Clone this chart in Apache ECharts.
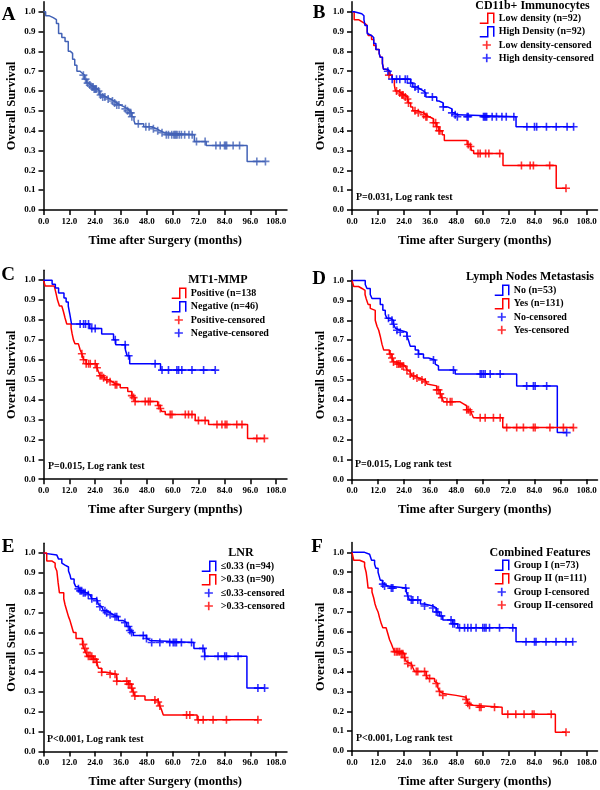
<!DOCTYPE html>
<html><head><meta charset="utf-8">
<script src="https://cdn.jsdelivr.net/npm/echarts@6/dist/echarts.min.js"></script>
<style>html,body{margin:0;padding:0;background:#fff}#main{width:600px;height:790px}</style>
</head><body><div id="main"></div>
<script>
// ---------- tick labels ----------
const X_TICKS = [0, 12, 24, 36, 48, 60, 72, 84, 96, 108];
const Y_TICKS = [0, 0.1, 0.2, 0.3, 0.4, 0.5, 0.6, 0.7, 0.8, 0.9, 1.0];

// ---------- Panel A: all patients ----------
const aTimes = [0, 1, 2.5, 4.5, 6, 7, 8.5, 10, 11.5, 12.5, 13.5, 14.5, 15.5, 17, 18, 19, 20, 21, 22, 23.5, 25, 26, 27.5, 29, 31, 32.5, 34, 35.5, 37.5, 39, 40, 41, 42, 42.5, 46.5, 50, 52.5, 54, 56, 70, 75.5, 94.5];
const aSurv = [1.0, 0.98, 0.97, 0.96, 0.94, 0.89, 0.87, 0.85, 0.80, 0.79, 0.76, 0.73, 0.70, 0.69, 0.68, 0.66, 0.64, 0.63, 0.62, 0.61, 0.60, 0.58, 0.57, 0.56, 0.55, 0.54, 0.53, 0.52, 0.51, 0.50, 0.49, 0.47, 0.45, 0.435, 0.42, 0.41, 0.40, 0.39, 0.38, 0.345, 0.325, 0.245];
const aCens = [18.5, 19.5, 20.5, 21.5, 22.5, 23, 23.5, 24, 24.5, 25.5, 26.5, 27.5, 28.5, 30, 32, 33, 34, 35, 38, 39, 40, 40.5, 41, 44, 47.5, 49, 51, 53, 55, 57, 58, 59.5, 60.5, 61, 61.5, 62, 63, 64, 65.5, 67.5, 69, 71, 75, 80, 82, 84, 84.5, 85, 88, 91, 99, 103];

// ---------- Panel B: CD11b+ ----------
const bLowTimes = [0, 1, 3, 4.5, 6, 7, 7.5, 9, 10, 11, 12.5, 13, 14, 14.5, 15.5, 17, 18.5, 19.5, 20, 21.5, 22.5, 24, 25.5, 26, 27, 28, 30.5, 33, 34, 35.5, 37.5, 39, 40, 41.5, 42.5, 53, 54.5, 55, 56, 69.5, 94];
const bLowSurv = [1.0, 0.96, 0.95, 0.94, 0.93, 0.90, 0.88, 0.86, 0.83, 0.81, 0.79, 0.77, 0.74, 0.71, 0.70, 0.68, 0.66, 0.63, 0.60, 0.59, 0.58, 0.57, 0.56, 0.54, 0.52, 0.50, 0.49, 0.48, 0.47, 0.46, 0.44, 0.42, 0.40, 0.38, 0.35, 0.33, 0.32, 0.30, 0.285, 0.225, 0.11];
const bLowCens = [17, 20.5, 22, 23, 23.5, 24.5, 25.5, 26, 29, 30.5, 33, 34, 34.5, 37.5, 38.5, 39, 40, 40.5, 53.5, 54.5, 58, 59, 61.5, 63, 68, 78, 82, 83.5, 91, 98.5];
const bHighTimes = [0, 1, 4.5, 5.5, 6, 7, 7.5, 9, 10, 11, 12.5, 13, 14, 14.5, 16.5, 17.5, 18.5, 27, 28, 30, 31.5, 33, 34, 39, 40, 42, 44, 46, 47, 48.5, 75.5];
const bHighSurv = [1.0, 0.99, 0.98, 0.96, 0.93, 0.89, 0.88, 0.87, 0.84, 0.81, 0.79, 0.77, 0.74, 0.71, 0.70, 0.68, 0.66, 0.64, 0.62, 0.61, 0.60, 0.59, 0.57, 0.55, 0.54, 0.52, 0.51, 0.49, 0.48, 0.47, 0.42];
const bHighCens = [16.5, 18.5, 20.5, 22, 24.5, 25.5, 27, 29, 30.5, 33.5, 37, 42, 46, 47.5, 48.5, 53, 53.5, 60.5, 61, 61.5, 62, 64.5, 66.5, 69, 71, 74.5, 80.5, 84, 85, 89.5, 94, 99, 102];

// ---------- Panel C: MT1-MMP ----------
const cPosTimes = [0, 0.8, 5, 5.9, 6.5, 7.4, 8.5, 9.3, 10, 10.8, 12.8, 13.3, 13.9, 14.6, 16.2, 17, 17.8, 18.6, 19.8, 24.8, 25.5, 26.3, 27.9, 28.6, 30.2, 31.8, 33.3, 35.6, 39.1, 41, 41.8, 42.5, 53, 54.2, 54.9, 56.5, 70.4, 76.6, 94.7];
const cPosSurv = [1.0, 0.97, 0.96, 0.93, 0.90, 0.87, 0.86, 0.84, 0.81, 0.78, 0.76, 0.73, 0.70, 0.68, 0.67, 0.65, 0.63, 0.60, 0.58, 0.56, 0.54, 0.52, 0.51, 0.50, 0.49, 0.48, 0.475, 0.46, 0.44, 0.42, 0.41, 0.39, 0.37, 0.355, 0.34, 0.325, 0.295, 0.275, 0.205];
const cPosCens = [17.8, 18.6, 19.8, 20.9, 21.7, 24, 24.8, 26.3, 27.1, 27.9, 29.4, 30.9, 33.3, 34, 41, 41.8, 42.5, 47.2, 48.7, 49.5, 53.4, 54.2, 58.8, 59.6, 65.8, 67.3, 68.9, 71.9, 75, 80.5, 82.8, 84.3, 85.1, 89.7, 92.1, 99, 102.5];
const cNegTimes = [0, 4, 5.5, 7, 9.5, 10.5, 11.5, 12.2, 13, 21.5, 27, 32.5, 33.5, 38, 38.8, 40, 54.3];
const cNegSurv = [1.0, 0.98, 0.96, 0.935, 0.91, 0.89, 0.87, 0.83, 0.78, 0.757, 0.73, 0.70, 0.675, 0.65, 0.62, 0.58, 0.548];
const cNegCens = [17, 18.6, 19.5, 20.9, 22.4, 24, 33.3, 37.9, 39.5, 51.8, 55, 58, 61.9, 62.7, 64.2, 68.9, 74.3, 79.7];

// ---------- Panel D: Lymph nodes metastasis ----------
const dNoTimes = [0, 6.1, 6.9, 8.4, 9.2, 13, 14.2, 15.3, 16, 17.6, 19.1, 20, 20.7, 22.2, 25.3, 26, 26.8, 29.1, 30.6, 32.9, 35.2, 38.3, 39, 39.8, 47.5, 75.8, 94.5];
const dNoSurv = [1.0, 0.98, 0.96, 0.93, 0.91, 0.88, 0.85, 0.83, 0.81, 0.80, 0.78, 0.76, 0.75, 0.74, 0.72, 0.70, 0.67, 0.65, 0.63, 0.61, 0.60, 0.58, 0.57, 0.55, 0.53, 0.47, 0.235];
const dNoCens = [16.8, 18.4, 19.1, 20.7, 22.2, 25.3, 30.6, 37.5, 46.7, 59, 59.7, 60.5, 61.3, 63.6, 68.2, 80.4, 83.5, 84.3, 89.6, 98.8];
const dYesTimes = [0, 0.8, 3, 4.6, 6, 6.5, 7.4, 8.4, 9.2, 10.7, 11.5, 12.3, 13, 13.8, 14.6, 17.2, 18.4, 19.1, 20.7, 23, 24.5, 25.3, 26, 26.8, 27.6, 29.1, 30.6, 33.7, 34.5, 35.2, 39, 40.6, 41.4, 42.1, 49.8, 51.3, 52.8, 54.4, 55.1, 55.9, 69.4];
const dYesSurv = [1.0, 0.97, 0.96, 0.95, 0.93, 0.91, 0.88, 0.86, 0.85, 0.80, 0.77, 0.75, 0.72, 0.68, 0.65, 0.63, 0.61, 0.59, 0.58, 0.57, 0.56, 0.55, 0.54, 0.53, 0.52, 0.51, 0.50, 0.49, 0.48, 0.47, 0.45, 0.43, 0.41, 0.39, 0.38, 0.37, 0.35, 0.34, 0.33, 0.31, 0.26];
const dYesCens = [17.6, 18.4, 19.1, 20.7, 21.5, 22.2, 23, 23.7, 25.3, 26.8, 28.3, 29.9, 32.2, 33.7, 39, 39.8, 40.6, 41.4, 43.7, 45.2, 46, 52.8, 53.6, 54.4, 59, 61.3, 65.1, 68.2, 71.2, 75.8, 78.9, 83.5, 84.3, 91.1, 97.3, 101.9];

// ---------- Panel E: LNR ----------
const eLowTimes = [0, 0.8, 6.2, 7, 8.5, 9.3, 10, 11.6, 12.3, 12.7, 14.2, 15, 16.2, 17, 18.5, 20, 21.6, 22.4, 24.7, 25.5, 26.2, 27, 27.8, 29, 30.9, 32.4, 34.7, 37, 38.6, 40.1, 40.9, 41.7, 47.8, 48.6, 49.4, 69.8, 74.8, 94.4];
const eLowSurv = [1.0, 0.99, 0.98, 0.97, 0.95, 0.94, 0.93, 0.91, 0.89, 0.87, 0.85, 0.83, 0.82, 0.81, 0.80, 0.79, 0.78, 0.77, 0.76, 0.74, 0.73, 0.72, 0.71, 0.70, 0.69, 0.68, 0.66, 0.65, 0.63, 0.61, 0.60, 0.585, 0.57, 0.56, 0.55, 0.52, 0.48, 0.32];
const eLowCens = [16.2, 17, 17.7, 18.5, 19.3, 20.8, 22.4, 24.7, 26.2, 28.5, 29.3, 30.9, 33.2, 34, 37.8, 39.4, 40.1, 40.9, 46.3, 47.8, 50.2, 54, 58.6, 60.2, 61, 61.7, 64, 68.7, 74, 74.8, 81, 84.1, 84.9, 90.3, 99.5, 102.6];
const eHighTimes = [0, 1.5, 4, 5.4, 6.2, 6.8, 7.4, 9.4, 10, 10.8, 11.6, 12.3, 13.1, 13.9, 15.1, 18.1, 18.8, 19.6, 20.4, 23.1, 24.7, 25.5, 27, 29.3, 34, 39.4, 40.9, 41.7, 42.4, 47.1, 53.2, 54, 54.8, 55.6, 71.3];
const eHighSurv = [1.0, 0.96, 0.95, 0.93, 0.91, 0.85, 0.80, 0.77, 0.74, 0.71, 0.68, 0.66, 0.63, 0.60, 0.57, 0.54, 0.52, 0.50, 0.48, 0.465, 0.45, 0.42, 0.40, 0.39, 0.355, 0.34, 0.32, 0.30, 0.28, 0.26, 0.25, 0.23, 0.21, 0.185, 0.16];
const eHighCens = [18.5, 19.3, 20.1, 20.8, 21.6, 22.4, 23.1, 23.9, 24.7, 27, 30.9, 33.2, 34, 38.6, 39.4, 40.1, 40.9, 41.7, 42.4, 51.7, 53.2, 54, 66.4, 67.9, 71.8, 74.1, 78.7, 84.9, 99.5];

// ---------- Panel F: Combined features ----------
const fG1Times = [0, 5.8, 8.1, 9, 10.4, 11, 12, 12.5, 13, 14, 15, 16.5, 25, 25.7, 26.5, 31.5, 33.4, 37.2, 38.8, 40.3, 41.8, 46.4, 48.7, 75.5];
const fG1Surv = [1.0, 0.99, 0.98, 0.96, 0.94, 0.92, 0.90, 0.88, 0.86, 0.84, 0.83, 0.82, 0.80, 0.78, 0.76, 0.74, 0.73, 0.72, 0.70, 0.68, 0.66, 0.64, 0.62, 0.55];
const fG1Cens = [14.2, 15, 18.1, 18.8, 24.7, 25.7, 27.3, 28, 30.3, 33.4, 37.2, 38.8, 39.5, 41.1, 45.6, 46.4, 47.2, 49.5, 51.8, 53.3, 54.8, 57.1, 60.2, 61, 61.7, 63.3, 67.9, 74, 80.1, 84, 84.7, 89.3, 93.9, 98.5, 101.6];
const fG2Times = [0, 0.8, 3.5, 5.8, 6.5, 7, 7.4, 9.2, 10, 10.6, 11.2, 12, 12.7, 13.5, 14.2, 15.7, 16.5, 17.3, 18.1, 18.8, 19.6, 22.7, 24.2, 25, 25.7, 27.3, 28, 28.8, 34.2, 34.9, 38, 38.8, 39.5, 40.3, 41.1, 41.8, 47.9, 52.5, 53.3, 54.1, 55.6, 69.1, 93.6];
const fG2Surv = [1.0, 0.96, 0.95, 0.93, 0.90, 0.86, 0.82, 0.80, 0.77, 0.74, 0.72, 0.70, 0.67, 0.64, 0.62, 0.61, 0.59, 0.56, 0.54, 0.52, 0.50, 0.49, 0.47, 0.45, 0.44, 0.43, 0.42, 0.40, 0.38, 0.365, 0.35, 0.34, 0.32, 0.30, 0.29, 0.28, 0.27, 0.26, 0.24, 0.23, 0.22, 0.185, 0.095];
const fG2Cens = [19.6, 20.4, 21.1, 21.9, 22.7, 23.4, 24.2, 25.7, 27.3, 29.6, 30.3, 33.4, 34.2, 35.7, 38.8, 40.3, 41.8, 52.5, 53.3, 54.1, 58.7, 59.4, 65.6, 71.7, 75.4, 79.2, 83, 83.8, 91.7, 98.5];

// ---------- styling / layout ----------
const FONT = '"Liberation Serif", "Times New Roman", serif';
const RED = '#ff0000', BLUE = '#0000ff', ABLUE = '#4262b6';
const PLUS = 'path://M0,0M12,12M5,1L7,1L7,5L11,5L11,7L7,7L7,11L5,11L5,7L1,7L1,5L5,5Z';
const STEP_ICON = 'path://M0,10L8,10L8,0L14,0L14,10';

const panels = [
  { letter: 'A', grid: [43.5, 1.8, 243.5, 208.2], lp: [8.5, 15], xName: 'Time after Surgery (months)',
    curves: [{ name: 'Overall', times: aTimes, surv: aSurv, cens: aCens, color: ABLUE }] },
  { letter: 'B', grid: [352, 1.8, 245.5, 208.2], lp: [319, 13.5], xName: 'Time after Surgery (months)',
    title: ['CD11b+ Immunocytes', 532.5, 5.5], legend: [479, 12.5], p: ['P=0.031, Log rank test', 356, 197],
    curves: [
      { name: 'Low density (n=92)', cname: 'Low density-censored', times: bLowTimes, surv: bLowSurv, cens: bLowCens, color: RED },
      { name: 'High Density (n=92)', cname: 'High density-censored', times: bHighTimes, surv: bHighSurv, cens: bHighCens, color: BLUE }] },
  { letter: 'C', grid: [43.5, 270.2, 243.5, 209], lp: [8, 275.5], xName: 'Time after Surgery (mpnths)',
    title: ['MT1-MMP', 218, 280], legend: [171, 287.5], p: ['P=0.015, Log rank test', 48, 466],
    curves: [
      { name: 'Positive (n=138', cname: 'Positive-censored', times: cPosTimes, surv: cPosSurv, cens: cPosCens, color: RED },
      { name: 'Negative (n=46)', cname: 'Negative-censored', times: cNegTimes, surv: cNegSurv, cens: cNegCens, color: BLUE }] },
  { letter: 'D', grid: [352, 270.6, 245.5, 208.7], lp: [319, 279], xName: 'Time after Surgery (months)',
    title: ['Lymph Nodes Metastasis', 530, 277], legend: [494, 284.5], p: ['P=0.015, Log rank test', 355, 464],
    curves: [
      { name: 'No (n=53)', cname: 'No-censored', times: dNoTimes, surv: dNoSurv, cens: dNoCens, color: BLUE },
      { name: 'Yes (n=131)', cname: 'Yes-censored', times: dYesTimes, surv: dYesSurv, cens: dYesCens, color: RED }] },
  { letter: 'E', grid: [43.5, 543.2, 243.5, 208.4], lp: [8, 547.5], xName: 'Time after Surgery (months)',
    title: ['LNR', 241, 553], legend: [201, 560.5], p: ['P<0.001, Log rank test', 47, 739],
    curves: [
      { name: '\u22640.33 (n=94)', cname: '\u22640.33-censored', times: eLowTimes, surv: eLowSurv, cens: eLowCens, color: BLUE },
      { name: '>0.33 (n=90)', cname: '>0.33-censored', times: eHighTimes, surv: eHighSurv, cens: eHighCens, color: RED }] },
  { letter: 'F', grid: [352, 542.4, 245.5, 208.6], lp: [317, 547.5], xName: 'Time after Surgery (months)',
    title: ['Combined Features', 540, 553], legend: [494, 559.5], p: ['P<0.001, Log rank test', 356, 738],
    curves: [
      { name: 'Group I (n=73)', cname: 'Group I-censored', times: fG1Times, surv: fG1Surv, cens: fG1Cens, color: BLUE },
      { name: 'Group II (n=111)', cname: 'Group II-censored', times: fG2Times, surv: fG2Surv, cens: fG2Cens, color: RED }] }
];

function survAt(times, surv, t) {
  let s = surv[0];
  for (let i = 0; i < times.length; i++) if (times[i] <= t) s = surv[i];
  return s;
}
function stepData(c) {
  const pts = c.times.map((t, i) => [t, c.surv[i]]);
  const end = Math.max(c.times[c.times.length - 1], ...c.cens);
  if (end > c.times[c.times.length - 1]) pts.push([end, c.surv[c.surv.length - 1]]);
  return pts;
}

const labelStyle = { color: '#000', fontFamily: FONT, fontWeight: 'bold', fontSize: 9 };
const nameStyle = { color: '#000', fontFamily: FONT, fontWeight: 'bold', fontSize: 12.5 };
const axisLineStyle = { color: '#000', width: 1.5 };

const grid = [], xAxis = [], yAxis = [], series = [], legend = [], graphics = [];
panels.forEach((p, i) => {
  grid.push({ left: p.grid[0], top: p.grid[1], width: p.grid[2], height: p.grid[3], containLabel: false, outerBoundsMode: 'none' });
  xAxis.push({
    gridIndex: i, type: 'value', min: 0, max: 113,
    name: p.xName, nameLocation: 'middle', nameGap: 24, nameTextStyle: nameStyle, nameMoveOverlap: false,
    axisLine: { onZero: false, lineStyle: axisLineStyle },
    axisTick: { length: 5, lineStyle: axisLineStyle, customValues: X_TICKS },
    axisLabel: Object.assign({ margin: 7, customValues: X_TICKS, formatter: v => v.toFixed(1) }, labelStyle),
    splitLine: { show: false }
  });
  yAxis.push({
    gridIndex: i, type: 'value', min: 0, max: 1.05,
    name: 'Overall Survival', nameLocation: 'middle', nameGap: 25, nameTextStyle: nameStyle, nameMoveOverlap: false,
    axisLine: { onZero: false, lineStyle: axisLineStyle },
    axisTick: { length: 5, lineStyle: axisLineStyle, customValues: Y_TICKS },
    axisLabel: Object.assign({ margin: 8, customValues: Y_TICKS, formatter: v => v.toFixed(1) }, labelStyle),
    splitLine: { show: false }
  });
  p.curves.forEach(c => {
    series.push({
      name: c.name, type: 'line', xAxisIndex: i, yAxisIndex: i, step: 'end',
      showSymbol: false, symbol: 'none', color: c.color,
      lineStyle: { color: c.color, width: 1.5 }, data: stepData(c), z: 2, silent: true
    });
  });
  p.curves.forEach(c => {
    series.push({
      name: c.cname || (c.name + '-censored'), type: 'scatter', xAxisIndex: i, yAxisIndex: i,
      symbol: PLUS, symbolSize: 9.6, color: c.color, itemStyle: { color: c.color },
      data: c.cens.map(t => [t, survAt(c.times, c.surv, t)]), z: 3, silent: true
    });
  });
  if (p.legend) {
    legend.push({
      orient: 'vertical', left: p.legend[0], top: p.legend[1], padding: 0,
      itemWidth: 14, itemHeight: 10, itemGap: 2, selectedMode: false,
      textStyle: { color: '#000', fontFamily: FONT, fontWeight: 'bold', fontSize: 10, lineHeight: 11 },
      data: p.curves.map(c => ({ name: c.name, icon: STEP_ICON,
        itemStyle: { color: 'rgba(255,255,255,0)', borderColor: c.color, borderWidth: 1.5 } }))
        .concat(p.curves.map(c => ({ name: c.cname })))
    });
    graphics.push({ type: 'text', x: p.title[1], y: p.title[2],
      style: { text: p.title[0], font: 'bold 12px ' + FONT, fill: '#000', align: 'center', verticalAlign: 'middle' } });
    graphics.push({ type: 'text', x: p.p[1], y: p.p[2],
      style: { text: p.p[0], font: 'bold 10px ' + FONT, fill: '#000', align: 'left', verticalAlign: 'middle' } });
  }
  graphics.push({ type: 'text', x: p.lp[0], y: p.lp[1],
    style: { text: p.letter, font: 'bold 19px ' + FONT, fill: '#000', align: 'center', verticalAlign: 'middle' } });
});

const chart = echarts.init(document.getElementById('main'), null, { renderer: 'canvas' });
chart.setOption({
  animation: false,
  backgroundColor: '#ffffff',
  grid, xAxis, yAxis, series, legend,
  graphic: { elements: graphics }
});
</script></body></html>
